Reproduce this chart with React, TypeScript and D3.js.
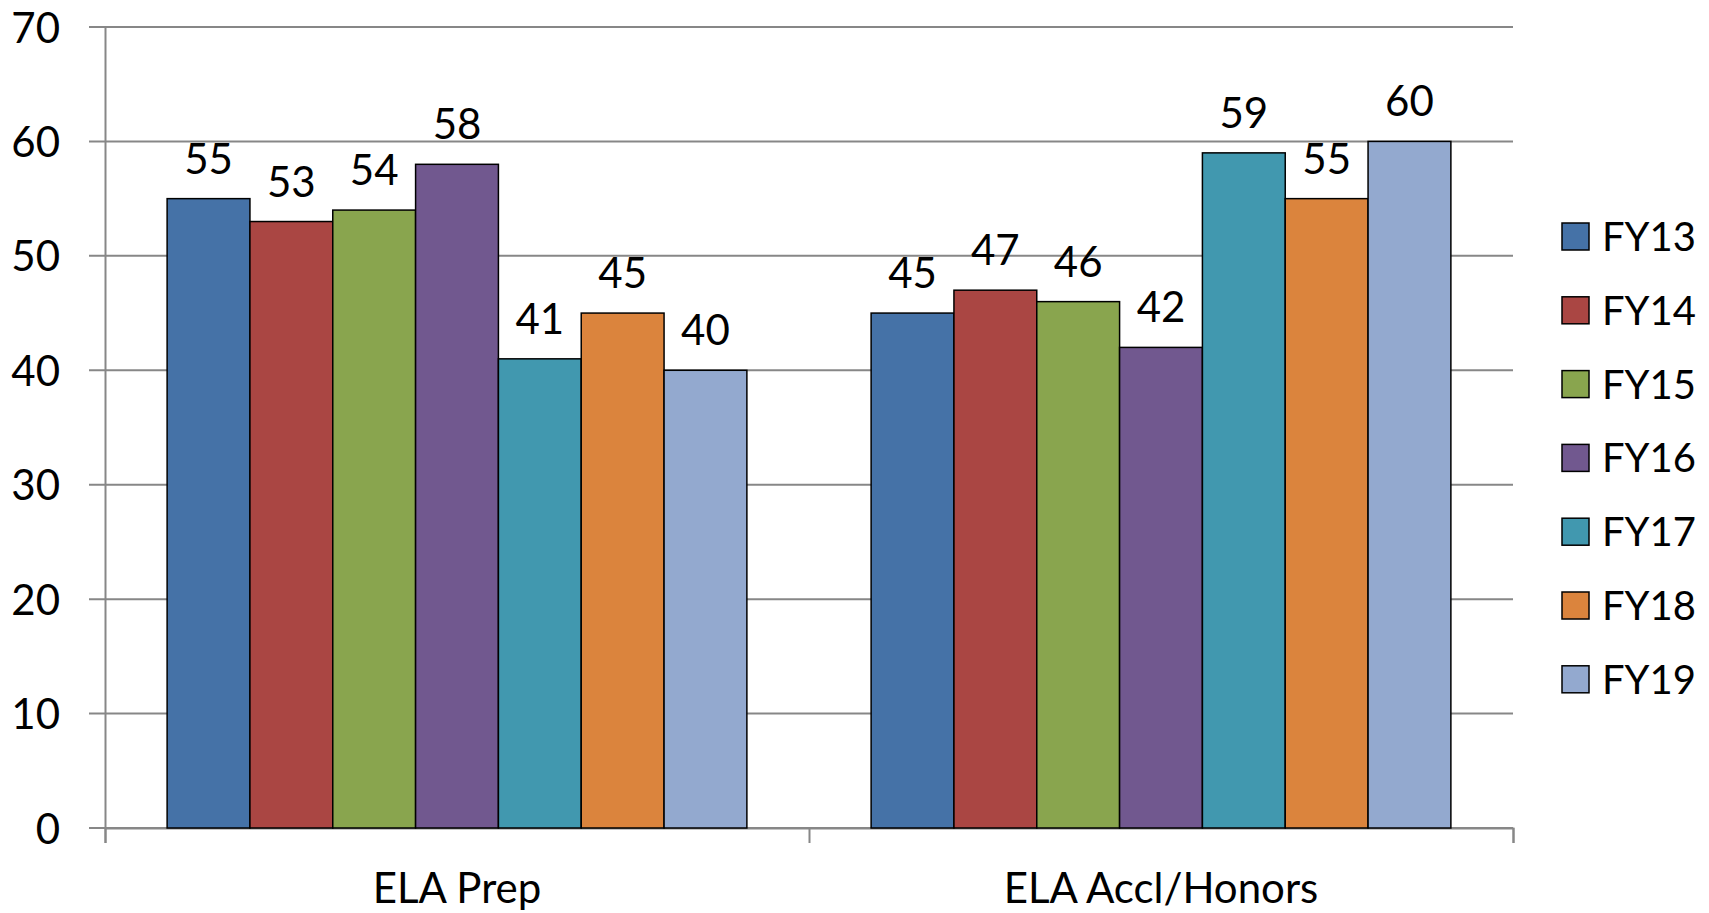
import React, { useRef, useEffect } from "react";
import * as d3 from "d3";

const categories = ["ELA Prep", "ELA Accl/Honors"];
const seriesNames = ["FY13", "FY14", "FY15", "FY16", "FY17", "FY18", "FY19"];
const prepValues = [55, 53, 54, 58, 41, 45, 40];
const honorsValues = [45, 47, 46, 42, 59, 55, 60];
const yTicks = [0, 10, 20, 30, 40, 50, 60, 70];
const colors = ["#4572A7", "#AA4643", "#89A54E", "#71588F", "#4198AF", "#DB843D", "#93A9CF"];

const W = 1709;
const H = 913;
const FONT = "Lato, 'Open Sans', sans-serif";
const GRID = "#878787";

export default function App() {
  const svgRef = useRef<SVGSVGElement>(null);

  useEffect(() => {
    if (!svgRef.current) return;
    const svg = d3.select(svgRef.current);
    svg.selectAll("*").remove();

    const left = 105;
    const right = 1513;
    const top = 27;
    const bottom = 828;

    const rows = categories.map((c, i) => ({
      category: c,
      values: i === 0 ? prepValues : honorsValues,
    }));

    const x0 = d3.scaleBand().domain(categories).range([left, right]);
    const x1 = d3
      .scaleBand()
      .domain(seriesNames)
      .range([0, x0.bandwidth()])
      .paddingInner(0)
      .paddingOuter(0.75);
    const y = d3.scaleLinear().domain([0, 70]).range([bottom, top]);

    // gridlines
    svg
      .append("g")
      .selectAll("line")
      .data(yTicks)
      .join("line")
      .attr("x1", left - 16)
      .attr("x2", right)
      .attr("y1", (d) => y(d))
      .attr("y2", (d) => y(d))
      .attr("stroke", GRID)
      .attr("stroke-width", 2);

    // y axis
    const yAxis = svg
      .append("g")
      .attr("transform", `translate(${left},0)`)
      .call(d3.axisLeft(y).tickValues(yTicks).tickSize(0).tickPadding(45));
    yAxis.select(".domain").attr("stroke", GRID).attr("stroke-width", 2);
    yAxis
      .selectAll("text")
      .attr("font-family", FONT)
      .attr("font-size", 42)
      .attr("fill", "#000")
      .attr("dy", "0.36em");

    // x axis
    const xAxis = svg
      .append("g")
      .attr("transform", `translate(0,${bottom})`)
      .call(
        d3
          .axisBottom(d3.scalePoint().domain(["a", "b", "c"]).range([left, right]))
          .tickSize(15)
          .tickFormat(() => "")
      );
    xAxis.select(".domain").attr("stroke", GRID).attr("stroke-width", 2);
    xAxis.selectAll("line").attr("stroke", GRID).attr("stroke-width", 2);

    svg
      .append("g")
      .selectAll("text")
      .data(categories)
      .join("text")
      .attr("x", (d) => (x0(d) ?? 0) + x0.bandwidth() / 2)
      .attr("y", 903)
      .attr("text-anchor", "middle")
      .attr("font-family", FONT)
      .attr("font-size", 42)
      .attr("fill", "#000")
      .text((d) => d);

    // bars
    const groups = svg
      .append("g")
      .selectAll("g")
      .data(rows)
      .join("g")
      .attr("transform", (d) => `translate(${x0(d.category)},0)`);

    groups
      .selectAll("rect")
      .data((d) => d.values.map((v, i) => ({ v, s: seriesNames[i], i })))
      .join("rect")
      .attr("x", (d) => x1(d.s) ?? 0)
      .attr("y", (d) => y(d.v))
      .attr("width", x1.bandwidth())
      .attr("height", (d) => bottom - y(d.v))
      .attr("fill", (d) => colors[d.i])
      .attr("stroke", "#000")
      .attr("stroke-width", 1.5);

    groups
      .selectAll("text")
      .data((d) => d.values.map((v, i) => ({ v, s: seriesNames[i] })))
      .join("text")
      .attr("x", (d) => (x1(d.s) ?? 0) + x1.bandwidth() / 2)
      .attr("y", (d) => y(d.v) - 25)
      .attr("text-anchor", "middle")
      .attr("font-family", FONT)
      .attr("font-size", 42)
      .attr("fill", "#000")
      .text((d) => d.v);

    // legend
    const legend = svg
      .append("g")
      .selectAll("g")
      .data(seriesNames)
      .join("g")
      .attr("transform", (_, i) => `translate(1562,${223 + i * 73.8})`);
    legend
      .append("rect")
      .attr("width", 27)
      .attr("height", 27)
      .attr("fill", (_, i) => colors[i])
      .attr("stroke", "#000")
      .attr("stroke-width", 1.5);
    legend
      .append("text")
      .attr("x", 40)
      .attr("y", 28)
      .attr("font-family", FONT)
      .attr("font-size", 40)
      .attr("fill", "#000")
      .text((d) => d);
  }, []);

  return (
    <div style={{ position: "absolute", left: 0, top: 0 }}>
      <svg ref={svgRef} width={W} height={H} style={{ display: "block", background: "#fff" }} />
    </div>
  );
}
